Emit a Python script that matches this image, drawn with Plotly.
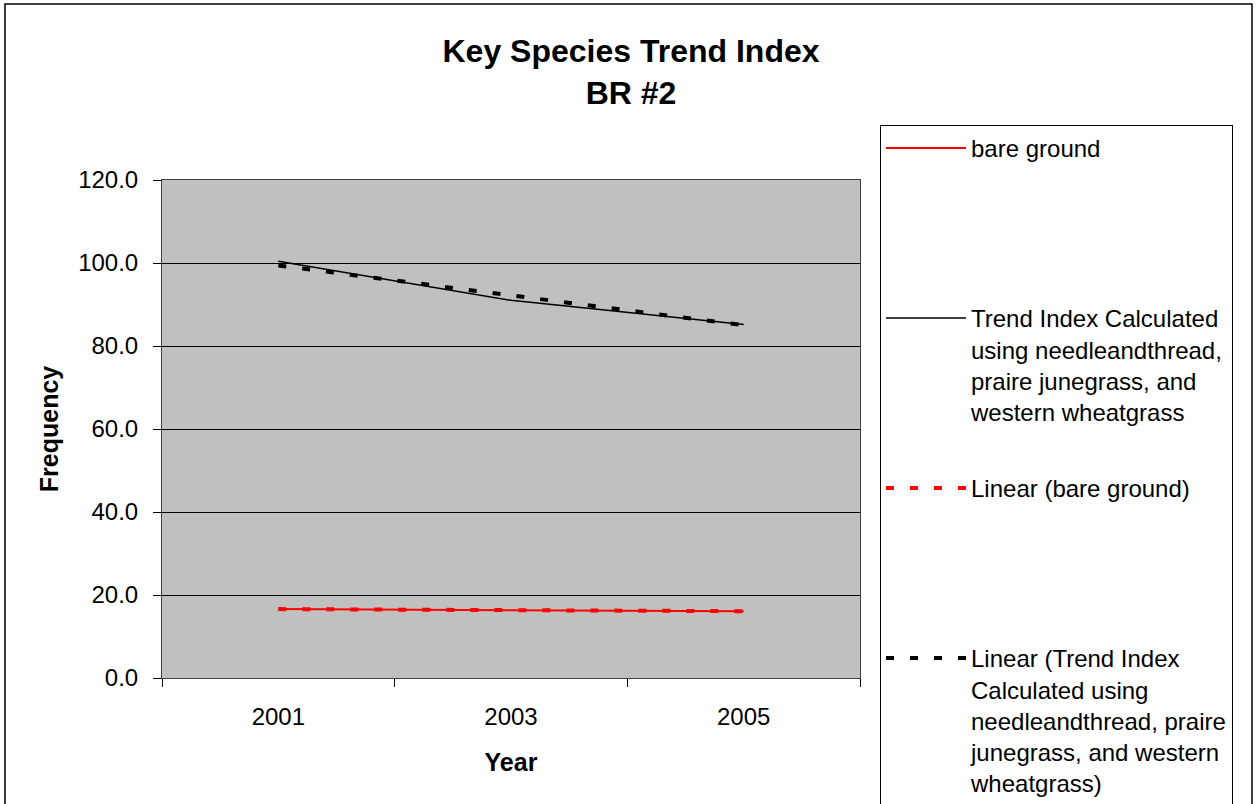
import plotly.graph_objects as go

# ---- data ----
years = ["2001", "2003", "2005"]
bare_ground = [16.6, 16.3, 16.1]
trend_index = [100.4, 91.0, 85.2]

trend_years = ["2001", "2005"]
bare_ground_linear = [16.6, 16.1]
trend_index_linear = [99.4, 85.0]

y_ticks = [0, 20, 40, 60, 80, 100, 120]

series_names = [
    "bare ground",
    "Trend Index Calculated<br>using needleandthread,<br>praire junegrass, and<br>western wheatgrass",
    "Linear (bare ground)",
    "Linear (Trend Index<br>Calculated using<br>needleandthread, praire<br>junegrass, and western<br>wheatgrass)",
]

FONT = "Liberation Sans, Arial, sans-serif"
W, H = 1257, 804
L, R, T, B = 162, 860, 180, 678  # plot area in px


def pad(name, lines=5):
    n = name.count("<br>") + 1
    return name + "<br> " * (lines - n)


fig = go.Figure()
fig.add_trace(go.Scatter(x=years, y=bare_ground, mode="lines", name=pad(series_names[0]),
                         legendgroup="g1", line=dict(color="#FF0000", width=2)))
fig.add_trace(go.Scatter(x=years, y=trend_index, mode="lines", name=pad(series_names[1]),
                         legendgroup="g2", line=dict(color="#000000", width=1.5)))
fig.add_trace(go.Scatter(x=trend_years, y=bare_ground_linear, mode="lines", name=pad(series_names[2]),
                         legendgroup="g3", line=dict(color="#FF0000", width=4, dash="8px,16px")))
fig.add_trace(go.Scatter(x=trend_years, y=trend_index_linear, mode="lines", name=pad(series_names[3]),
                         legendgroup="g4", line=dict(color="#000000", width=4, dash="8px,16px")))

fig.update_layout(
    width=W, height=H,
    margin=dict(l=L, r=W - R, t=T, b=H - B, autoexpand=False),
    paper_bgcolor="white",
    plot_bgcolor="#C0C0C0",
    font=dict(family=FONT, color="black", size=24),
    title=dict(
        text="Key Species Trend Index<br>BR #2",
        font=dict(family=FONT, size=32, weight="bold", color="black"),
        x=0.502, xanchor="center", xref="container",
        y=1 - 62 / H, yanchor="middle", yref="container",
    ),
    xaxis=dict(
        type="category", categoryorder="array", categoryarray=years,
        range=[-0.5, 2.5], tickson="boundaries",
        ticks="outside", ticklen=8, tickcolor="black", tickwidth=1,
        showgrid=False, showline=True, linecolor="#404040", linewidth=1, mirror=True,
        tickfont=dict(family=FONT, size=24, color="black"),
        ticklabelstandoff=17,
        title=dict(text="Year", font=dict(family=FONT, size=25, weight="bold"), standoff=24),
    ),
    yaxis=dict(
        range=[0, 120], tickvals=y_ticks, tickformat=".1f",
        showgrid=True, gridcolor="black", gridwidth=1, zeroline=False,
        ticks="outside", ticklen=8, tickcolor="black", tickwidth=1,
        showline=True, linecolor="#404040", linewidth=1, mirror=True,
        tickfont=dict(family=FONT, size=24, color="black"),
        ticklabelstandoff=10,
        title=dict(text="Frequency", font=dict(family=FONT, size=25, weight="bold"), standoff=12),
    ),
    legend=dict(
        x=(880 - L) / (R - L), y=(B - 125) / (B - T),
        xanchor="left", yanchor="top",
        bgcolor="white", bordercolor="black", borderwidth=1,
        font=dict(family=FONT, size=24, color="black"),
        itemwidth=80, valign="top", tracegroupgap=11,
        traceorder="grouped", maxheight=1000,
        entrywidth=270, entrywidthmode="pixels",
    ),
    showlegend=True,
)

# outer chart border
fig.add_shape(type="rect", xref="paper", yref="paper",
              x0=(5 - L) / (R - L), x1=(1252 - L) / (R - L),
              y0=(B - 900) / (B - T), y1=(B - 4) / (B - T),
              line=dict(color="black", width=1.5), fillcolor="rgba(0,0,0,0)", layer="above")

fig.write_html("out.html")
